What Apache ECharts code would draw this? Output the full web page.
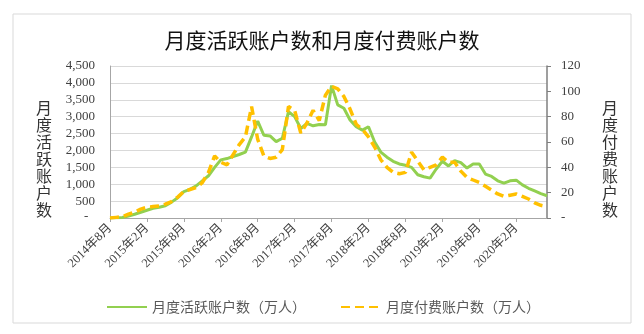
<!DOCTYPE html>
<html><head><meta charset="utf-8">
<script src="https://cdn.jsdelivr.net/npm/echarts@6/dist/echarts.min.js"></script>
<style>html,body{margin:0;padding:0;background:#fff}#c{width:644px;height:334px}</style>
</head><body><div id="c"></div>
<script>
// Months from 2014年8月 to 2020年7月
const categories = [];
for (let y = 2014, m = 8; categories.length < 72; ) {
  categories.push(y + '年' + m + '月');
  m++; if (m > 12) { m = 1; y++; }
}
// 月度活跃账户数（万人）, left axis
const activeAccounts = [
  0, 5, 15, 60, 110, 170, 230, 290, 320, 360, 470, 600,
  780, 850, 950, 1100, 1250, 1500, 1720, 1760, 1820, 1880, 1950, 2400,
  2870, 2450, 2430, 2260, 2360, 3150, 3000, 2650, 2800, 2730, 2770, 2760,
  3920, 3350, 3250, 2900, 2700, 2600, 2700, 2250, 1950, 1800, 1680, 1600,
  1560, 1500, 1280, 1220, 1180, 1450, 1680, 1540, 1700, 1640, 1480, 1600,
  1600, 1300, 1230, 1100, 1030, 1100, 1120, 980, 880, 800, 720, 660
];
// 月度付费账户数（万人）, right axis
const payingAccounts = [
  0, 0.5, 1, 3, 4.5, 7, 8.5, 9, 9.5, 11, 13, 16.5,
  21, 22.5, 24, 28, 36, 49, 44, 42, 50, 58, 64, 88,
  62, 49, 47, 48, 54, 88, 85, 67, 75, 85, 77, 97,
  104, 102, 96, 86, 74, 70, 64, 56, 46, 40, 36, 35,
  36, 52, 45, 38, 40, 42, 48, 44, 44, 37, 32, 30,
  28, 25, 22, 19, 17, 18, 19, 17, 15, 12, 10, 9
];
const leftTicks = { min: 0, max: 4500, interval: 500 };
const rightTicks = { min: 0, max: 120, interval: 20 };
const seriesNames = ['月度活跃账户数（万人）', '月度付费账户数（万人）'];

const serif = '"Liberation Serif", "Noto Sans CJK SC", serif';
const cjk = '"Noto Sans CJK SC", sans-serif';
const chart = echarts.init(document.getElementById('c'), null, { renderer: 'canvas' });
chart.setOption({
  animation: false,
  backgroundColor: '#fff',
  title: {
    text: '月度活跃账户数和月度付费账户数',
    left: 'center', top: 25,
    textStyle: { fontFamily: cjk, fontSize: 21, fontWeight: 'normal', color: '#111' }
  },
  graphic: [
    { type: 'rect', shape: { x: 13, y: 14, width: 618, height: 309 },
      style: { fill: 'none', stroke: '#d9d9d9', lineWidth: 1 }, silent: true },
    { type: 'text', left: 36, top: 99,
      style: { text: '月\n度\n活\n跃\n账\n户\n数', font: '16px ' + cjk, lineHeight: 17, fill: '#333' } },
    { type: 'text', left: 602, top: 99,
      style: { text: '月\n度\n付\n费\n账\n户\n数', font: '16px ' + cjk, lineHeight: 17, fill: '#333' } },
    { type: 'text', left: 84, top: 210,
      style: { text: '-', font: '13px ' + serif, fill: '#404040' } }
  ],
  grid: { left: 110, right: 97, top: 66, bottom: 116, containLabel: false },
  legend: {
    left: 101, top: 295, itemWidth: 40, itemHeight: 14, itemGap: 34,
    itemStyle: { opacity: 0 },
    textStyle: { fontFamily: cjk, fontSize: 14, color: '#595959' },
    data: seriesNames
  },
  xAxis: {
    type: 'category', data: categories, boundaryGap: false,
    axisLine: { lineStyle: { color: '#a6a6a6', width: 1 } },
    axisTick: { show: true, interval: 5, length: 4, lineStyle: { color: '#a6a6a6' } },
    axisLabel: { interval: 5, rotate: 45, fontFamily: serif, fontSize: 12.5, color: '#404040', margin: 8 },
    splitLine: { show: false }
  },
  yAxis: [
    { type: 'value', min: leftTicks.min, max: leftTicks.max, interval: leftTicks.interval,
      axisLine: { show: true, lineStyle: { color: '#a6a6a6' } },
      axisTick: { show: false },
      axisLabel: { margin: 15, fontFamily: serif, fontSize: 13, color: '#404040',
        formatter: v => v === 0 ? '' : v.toString().replace(/\B(?=(\d{3})+(?!\d))/g, ',') },
      splitLine: { lineStyle: { color: '#d9d9d9', width: 1 } } },
    { type: 'value', min: rightTicks.min, max: rightTicks.max, interval: rightTicks.interval,
      position: 'right',
      axisLine: { show: true, lineStyle: { color: '#7f7f7f', width: 1.5 } },
      axisTick: { show: true, length: 4, lineStyle: { color: '#7f7f7f' } },
      axisLabel: { margin: 14, showMinLabel: true, fontFamily: serif, fontSize: 13, color: '#404040',
        formatter: v => v === 0 ? '-' : String(v) },
      splitLine: { show: false } }
  ],
  series: [
    { name: seriesNames[0], type: 'line', yAxisIndex: 0, data: activeAccounts,
      showSymbol: false, symbol: 'none', z: 2,
      lineStyle: { color: '#92D050', width: 3 }, itemStyle: { color: '#92D050' } },
    { name: seriesNames[1], type: 'line', yAxisIndex: 1, data: payingAccounts,
      showSymbol: false, symbol: 'none', z: 3,
      lineStyle: { color: '#FFC000', width: 3.5, type: [9, 5] }, itemStyle: { color: '#FFC000' } }
  ]
});
</script>
</body></html>
